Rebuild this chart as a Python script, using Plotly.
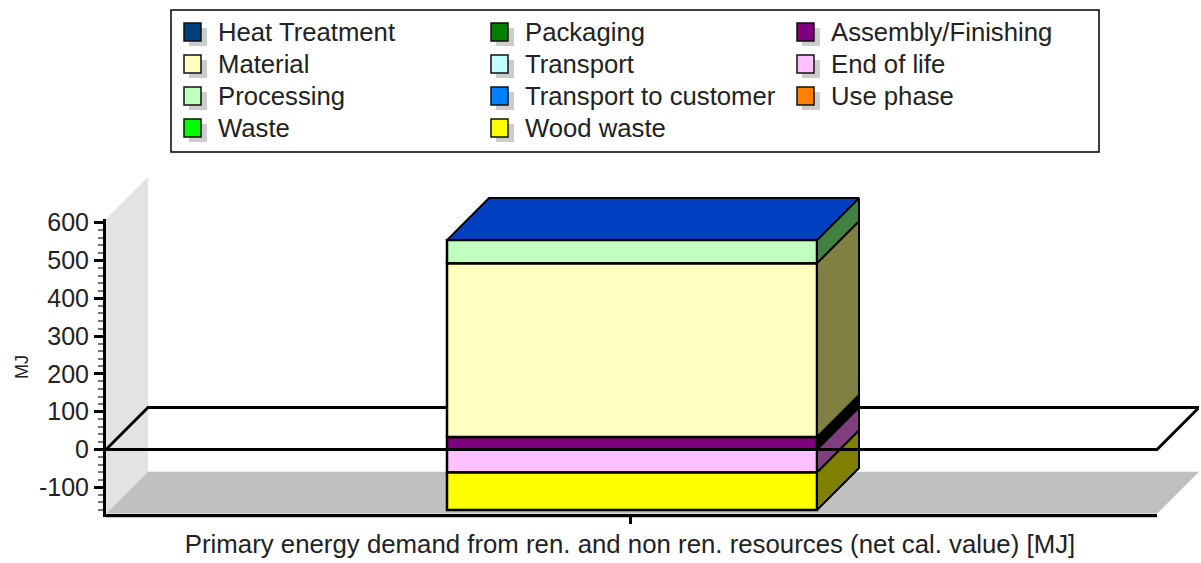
import plotly.graph_objects as go

category = "Primary energy demand from ren. and non ren. resources (net cal. value) [MJ]"
series_names = ["Heat Treatment", "Material", "Processing", "Waste",
                "Packaging", "Transport", "Transport to customer", "Wood waste",
                "Assembly/Finishing", "End of life", "Use phase"]
series_values = [0, 460, 61, 0, 0, 0, 0, -99, 33, -61, 0]
stack_order = ["Assembly/Finishing", "Material", "Processing", "End of life", "Wood waste"]
y_ticks = [-100, 0, 100, 200, 300, 400, 500, 600]
y_tick_labels = ["-100", "0", "100", "200", "300", "400", "500", "600"]

colors = ["#003f7f", "#ffffc0", "#c0ffc0", "#00ff00", "#007f00", "#c0ffff",
          "#0080ff", "#ffff00", "#7f007f", "#ffc0ff", "#ff8000"]
side_colors = {"Assembly/Finishing": "#000000", "Material": "#808040", "Processing": "#408040",
               "End of life": "#804080", "Wood waste": "#808000"}
top_color = "#0040c0"

W, H = 1201, 563
PX = 0.378           # pixels per MJ
Y0 = 449.5           # pixel of zero
YMIN = -170
X_L, X_R, X_BACK = 106.0, 1157.0, 1199.0
DEPTH = 42.0
front_w = X_R - X_L
Y_BOT = Y0 - YMIN * PX
Y_TOP_MAIN = 178.0
YMAX_MAIN = YMIN + (Y_BOT - Y_TOP_MAIN) / PX
YMAX_AXIS = (Y0 - 219.0) / PX
dx = DEPTH / front_w
dy = DEPTH / PX
XMAX = (X_BACK - X_L) / front_w
BAR_W = 370 / front_w
BAR_C = (632 - X_L) / front_w
TICK_C = (630 - X_L) / front_w
bar_l, bar_r = BAR_C - BAR_W / 2, BAR_C + BAR_W / 2

values = dict(zip(series_names, series_values))
color_of = dict(zip(series_names, colors))

fig = go.Figure()

LINE = dict(color="black", width=3)
def poly(xs, ys, fill, line=None):
    path = "M " + " L ".join(f"{x},{y}" for x, y in zip(xs, ys)) + " Z"
    return dict(type="path", path=path, xref="x", yref="y", fillcolor=fill,
                line=line or dict(width=0), layer="below")

def px(x): return x / W
def py(y): return 1 - y / H

shapes = [
    poly([0, dx, dx, 0], [YMIN, YMIN + dy, YMAX_AXIS + dy, YMAX_AXIS], "#e3e3e3"),
    poly([0, dx, 1 + dx, 1], [YMIN, YMIN + dy, YMIN + dy, YMIN], "#c0c0c0"),
    poly([0, dx, 1 + dx, 1], [0, dy, dy, 0], "rgba(0,0,0,0)", LINE),
    dict(type="line", xref="paper", yref="paper", x0=px(X_L), x1=px(X_R), y0=py(517), y1=py(517),
         line=dict(color="#c4c4c4", width=2), layer="below"),
]

for name in stack_order:
    fig.add_trace(go.Bar(x=[BAR_C], y=[values[name]], width=BAR_W, name=name,
                         marker=dict(color=color_of[name], line=dict(color="black", width=2.5)),
                         xaxis="x", yaxis="y", showlegend=False))

pos, neg = 0, 0
top = 0
for name in stack_order:
    v = values[name]
    if v >= 0:
        a, b = pos, pos + v
        pos = b
    else:
        a, b = neg + v, neg
        neg = a
    top = max(top, b)
    fig.add_trace(go.Scatter(x=[bar_r, bar_r + dx, bar_r + dx, bar_r, bar_r],
                             y=[a, a + dy, b + dy, b, a], mode="lines", fill="toself",
                             fillcolor=side_colors[name], line=dict(color="black", width=2),
                             xaxis="x", yaxis="y", showlegend=False, hoverinfo="skip"))
fig.add_trace(go.Scatter(x=[bar_l, bar_r, bar_r + dx, bar_l + dx, bar_l],
                         y=[top, top, top + dy, top + dy, top], mode="lines", fill="toself",
                         fillcolor=top_color, line=dict(color="black", width=2),
                         xaxis="x", yaxis="y", showlegend=False, hoverinfo="skip"))
fig.add_trace(go.Scatter(x=[0, 1], y=[0, 0], mode="lines", line=LINE, xaxis="x", yaxis="y",
                         showlegend=False, hoverinfo="skip"))
fig.add_trace(go.Scatter(x=[BAR_C], y=[0], mode="none", xaxis="x2", yaxis="y2",
                         showlegend=False, hoverinfo="skip"))

shapes.append(dict(type="rect", xref="paper", yref="paper", x0=px(171), x1=px(1099), y0=py(10), y1=py(152),
                   line=dict(color="black", width=1.5), fillcolor="white", layer="below"))
annotations = []
col_x = [184, 491, 797]
row_y = [32, 64, 96, 128]
for i, name in enumerate(series_names):
    c = 0 if i < 4 else (1 if i < 8 else 2)
    r = i if i < 4 else (i - 4 if i < 8 else i - 8)
    x, y = col_x[c], row_y[r]
    shapes.append(dict(type="rect", xref="paper", yref="paper", x0=px(x + 5), x1=px(x + 23), y0=py(y - 4), y1=py(y + 14),
                       fillcolor="#cccccc", line=dict(width=0), layer="above"))
    shapes.append(dict(type="rect", xref="paper", yref="paper", x0=px(x), x1=px(x + 17), y0=py(y - 9), y1=py(y + 9),
                       fillcolor=colors[i], line=dict(color="#111111", width=1.5), layer="above"))
    annotations.append(dict(text=name, xref="paper", yref="paper", x=px(x + 32), y=py(y), xanchor="left",
                            yanchor="middle", showarrow=False, font=dict(size=25.7, color="#222222")))
annotations.append(dict(text="MJ", xref="paper", yref="paper", x=px(22), y=py(367), textangle=-90,
                        xanchor="center", yanchor="middle",
                        showarrow=False, font=dict(size=18, color="#222222")))

FONT = "Liberation Sans, Arial, sans-serif"
fig.update_layout(
    width=W, height=H, margin=dict(l=0, r=0, t=0, b=0, autoexpand=False), autosize=False,
    paper_bgcolor="white", plot_bgcolor="rgba(0,0,0,0)", barmode="relative",
    font=dict(family=FONT, color="#222222"), showlegend=False,
    shapes=shapes, annotations=annotations,
    xaxis=dict(domain=[X_L / W, X_BACK / W], range=[0, XMAX], visible=False, fixedrange=True),
    yaxis=dict(domain=[1 - Y_BOT / H, 1 - Y_TOP_MAIN / H], range=[YMIN, YMAX_MAIN], visible=False, fixedrange=True),
    xaxis2=dict(domain=[X_L / W, X_R / W], range=[0, 1], anchor="y2", showline=True,
                linecolor="black", linewidth=3, ticks="outside", ticklen=7, tickwidth=3, tickcolor="black",
                tickvals=[TICK_C], ticktext=[category], tickfont=dict(size=25.8, color="#222222"),
                ticklabelstandoff=-2, showgrid=False, zeroline=False, fixedrange=True),
    yaxis2=dict(domain=[1 - Y_BOT / H, 1 - 219.0 / H], range=[YMIN, YMAX_AXIS], anchor="x2",
                showline=True, linecolor="black", linewidth=3, ticks="outside", ticklen=9, tickwidth=3,
                tickcolor="black", tickvals=y_ticks, ticktext=y_tick_labels, tickfont=dict(size=25, color="#222222"),
                minor=dict(dtick=20, ticks="outside", ticklen=5, tickwidth=2, tickcolor="#777777"),
                showgrid=False, zeroline=False, fixedrange=True),
)

fig.write_html("out.html", config={"displayModeBar": False},
               post_script="document.body.style.margin='0';document.body.style.overflow='hidden';"
                           "var g=document.getElementById('{plot_id}');g.style.position='fixed';g.style.top='0';g.style.left='0';")
